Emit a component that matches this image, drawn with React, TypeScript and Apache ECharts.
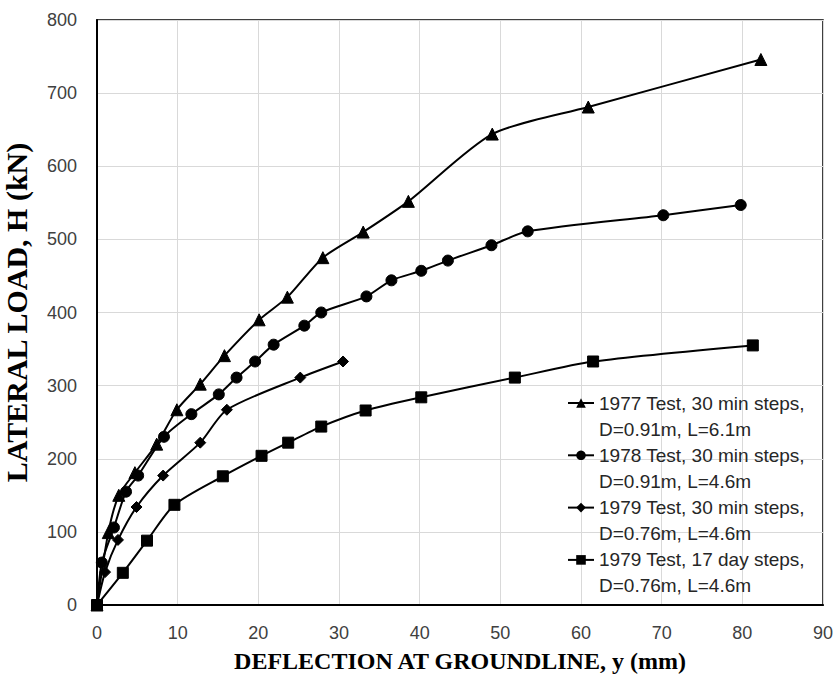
import React, { useEffect, useRef } from "react";
import * as echarts from "echarts";

// [deflection (mm), lateral load (kN)]
const test1977: number[][] = [
  [0, 0], [1.4, 99], [2.7, 150], [4.7, 181], [7.4, 220], [9.9, 267], [12.8, 302],
  [15.8, 341], [20.1, 390], [23.6, 421], [28, 475], [33, 510], [38.6, 552],
  [49, 644], [60.9, 681], [82.3, 746],
];
const test1978: number[][] = [
  [0, 0], [0.6, 58], [2.1, 106], [3.6, 155], [5.1, 177], [8.3, 230], [11.7, 261],
  [15.1, 288], [17.3, 311], [19.6, 333], [21.9, 356], [25.7, 382], [27.8, 400],
  [33.4, 422], [36.5, 444], [40.2, 457], [43.5, 471], [48.9, 492], [53.4, 511],
  [70.2, 533], [79.8, 547],
];
const test1979a: number[][] = [
  [0, 0], [1.0, 45], [2.6, 89], [4.9, 134], [8.2, 177], [12.8, 222], [16.1, 267],
  [25.2, 311], [30.5, 333],
];
const test1979b: number[][] = [
  [0, 0], [3.2, 44], [6.2, 88], [9.6, 137], [15.6, 176], [20.4, 204], [23.7, 222],
  [27.8, 244], [33.3, 266], [40.2, 284], [51.8, 311], [61.5, 333], [81.3, 355],
];

const seriesNames = [
  "1977 Test, 30 min steps,\nD=0.91m, L=6.1m",
  "1978 Test, 30 min steps,\nD=0.91m, L=4.6m",
  "1979 Test, 30 min steps,\nD=0.76m, L=4.6m",
  "1979 Test, 17 day steps,\nD=0.76m, L=4.6m",
];
const seriesData = [test1977, test1978, test1979a, test1979b];
const symbols = ["triangle", "circle", "diamond", "rect"];
const symbolSizes = [12, 11, 11, 11];

const xAxisTitle = "DEFLECTION AT GROUNDLINE, y (mm)";
const yAxisTitle = "LATERAL LOAD, H (kN)";

export default function App() {
  const ref = useRef<HTMLDivElement>(null);
  useEffect(() => {
    if (!ref.current) return;
    document.body.style.margin = "0";
    const chart = echarts.init(ref.current, null, { renderer: "svg" });
    const tickFont = { fontFamily: "Liberation Sans", fontSize: 18, color: "#404040" };
    const legendText = {
      fontFamily: "Liberation Sans",
      fontSize: 19,
      lineHeight: 26,
      color: "#262626",
    };
    chart.setOption({
      animation: false,
      backgroundColor: "#fff",
      grid: {
        left: 97,
        right: 12,
        top: 20,
        bottom: 71,
        outerBoundsMode: "none",
        containLabel: false,
        show: true,
        borderColor: "#000",
        borderWidth: 1.5,
      },
      xAxis: {
        type: "value",
        min: 0,
        max: 90,
        interval: 10,
        name: xAxisTitle,
        nameLocation: "middle",
        nameGap: 44,
        nameTextStyle: {
          fontFamily: "Liberation Serif",
          fontWeight: "bold",
          fontSize: 24,
          lineHeight: 24,
          color: "#000",
        },
        axisLine: { lineStyle: { color: "#000", width: 2 } },
        axisTick: { show: false },
        axisLabel: { ...tickFont, margin: 19 },
        splitLine: { lineStyle: { color: "#d9d9d9", width: 1 } },
      },
      yAxis: {
        type: "value",
        min: 0,
        max: 800,
        interval: 100,
        name: yAxisTitle,
        nameLocation: "middle",
        nameGap: 66,
        nameTextStyle: {
          fontFamily: "Liberation Serif",
          fontWeight: "bold",
          fontSize: 30,
          color: "#000",
        },
        axisLine: { show: true, lineStyle: { color: "#000", width: 2 } },
        axisTick: { show: false },
        axisLabel: { ...tickFont, margin: 20 },
        splitLine: { lineStyle: { color: "#d9d9d9", width: 1 } },
      },
      legend: seriesNames.map((n, i) => ({
        orient: "vertical",
        left: 562,
        top: 359 + 52.3 * i,
        itemWidth: 26,
        itemHeight: 12,
        data: [n],
        formatter: (name: string) => {
          const parts = name.split("\n");
          return `{s| }\n{t|${parts[0]}}\n{t|${parts[1]}}`;
        },
        textStyle: {
          ...legendText,
          rich: { s: { ...legendText }, t: { ...legendText } },
        },
      })),
      series: seriesData.map((d, i) => ({
        type: "line",
        name: seriesNames[i],
        data: d,
        smooth: 0.25,
        symbol: symbols[i],
        symbolSize: symbolSizes[i],
        showAllSymbol: true,
        lineStyle: { color: "#000", width: 2 },
        itemStyle: { color: "#000", borderColor: "#000" },
        emphasis: { disabled: true },
      })),
    });
    return () => chart.dispose();
  }, []);
  return <div ref={ref} style={{ width: 835, height: 676 }} />;
}
